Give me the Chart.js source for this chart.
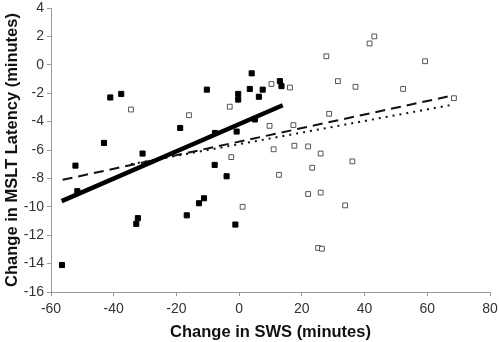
<!DOCTYPE html>
<html>
<head>
<meta charset="utf-8">
<script src="https://cdn.jsdelivr.net/npm/chart.js@4"></script>
<style>
  html, body { margin: 0; padding: 0; background: #fff; }
</style>
</head>
<body>
<canvas id="sws" width="499" height="342"></canvas>
<script>
// filled squares
var filledX = [-56.5, -52.2, -51.6, -43.1, -41.1, -37.6, -32.8, -32.3, -30.8, -18.8, -16.7, -12.8, -11.2, -10.3, -7.8, -7.7, -4.0, -1.2, -0.8, -0.3, -0.3, 3.4, 4.0, 5.0, 6.3, 7.5, 13.0, 13.5];
var filledY = [-14.1, -7.1, -8.9, -5.5, -2.3, -2.05, -11.2, -10.8, -6.25, -4.45, -10.6, -9.75, -9.4, -1.75, -7.05, -4.8, -7.85, -11.25, -4.7, -2.45, -2.05, -1.7, -0.6, -3.85, -2.25, -1.75, -1.15, -1.5];
// open squares
var openX = [-34.5, -16.0, -3.0, -2.5, 1.1, 9.7, 10.3, 11.0, 12.7, 16.2, 17.3, 17.6, 22.0, 22.0, 23.3, 25.2, 26.0, 26.0, 26.4, 27.8, 28.7, 31.5, 33.8, 36.1, 37.1, 41.6, 43.1, 52.3, 59.3, 68.5];
var openY = [-3.15, -3.55, -2.95, -6.5, -10.0, -4.3, -1.35, -5.95, -7.75, -1.6, -4.25, -5.7, -5.75, -9.1, -7.25, -12.9, -6.25, -9.0, -12.95, 0.6, -3.45, -1.15, -9.9, -6.8, -1.55, 1.5, 2.0, -1.7, 0.25, -2.35];
// trend lines (end points)
var solidX = [-56.6, 13.9];
var solidY = [-9.6, -2.85];
var dashedX = [-56.3, 68.3];
var dashedY = [-8.1, -2.15];
var dottedX = [-34.5, 68.3];
var dottedY = [-7.0, -2.8];

function pts(xs, ys) {
    return xs.map((x, i) => ({ x: x, y: ys[i] }));
}

var font = "'Liberation Sans', Arial, sans-serif";
var ctx = document.getElementById('sws').getContext('2d');
var chart = new Chart(ctx, {
    type: 'scatter',
    data: {
        datasets: [
            {
                type: 'line', data: pts(solidX, solidY), borderColor: '#000', borderWidth: 4.5,
                pointRadius: 0, fill: false, order: 0
            },
            {
                type: 'line', data: pts(dashedX, dashedY), borderColor: '#111', borderWidth: 2,
                borderDash: [10, 6], pointRadius: 0, fill: false, order: 1
            },
            {
                type: 'line', data: pts(dottedX, dottedY), borderColor: '#111', borderWidth: 2,
                borderDash: [2, 5], pointRadius: 0, fill: false, order: 2
            },
            {
                data: pts(filledX, filledY), pointStyle: 'rect', pointRadius: 3.6,
                backgroundColor: '#000', borderColor: '#000', borderWidth: 1, order: 3
            },
            {
                data: pts(openX, openY), pointStyle: 'rect', pointRadius: 3.4,
                backgroundColor: '#fff', borderColor: '#555', borderWidth: 1, order: 4
            }
        ]
    },
    options: {
        responsive: false,
        animation: false,
        devicePixelRatio: 1,
        layout: { padding: 0 },
        plugins: { legend: { display: false }, tooltip: { enabled: false } },
        scales: {
            x: {
                type: 'linear', min: -60, max: 80,
                ticks: { stepSize: 20, color: '#333', font: { family: font, size: 14 }, padding: 5 },
                grid: { drawOnChartArea: false, drawTicks: true, tickLength: 4, color: '#999' },
                border: { color: '#999', width: 1 },
                title: { display: true, text: 'Change in SWS (minutes)', color: '#111',
                         font: { family: font, size: 16.5, weight: 'bold' }, padding: { top: 1, bottom: 0 } },
                afterFit: function (s) {
                    s.height = 50;
                    s.paddingLeft = 0;
                    s.paddingRight = 9;
                }
            },
            y: {
                type: 'linear', min: -16, max: 4,
                ticks: { stepSize: 2, color: '#333', font: { family: font, size: 14 }, padding: 3 },
                grid: { drawOnChartArea: false, drawTicks: true, tickLength: 4, color: '#999' },
                border: { color: '#999', width: 1 },
                title: { display: true, text: 'Change in MSLT Latency (minutes)', color: '#111',
                         font: { family: font, size: 16.5, weight: 'bold' }, padding: { top: 3, bottom: 1 } },
                afterFit: function (s) {
                    s.width = 51;
                    s.paddingTop = 8;
                    s.paddingBottom = 0;
                }
            }
        }
    }
});
</script>
</body>
</html>
